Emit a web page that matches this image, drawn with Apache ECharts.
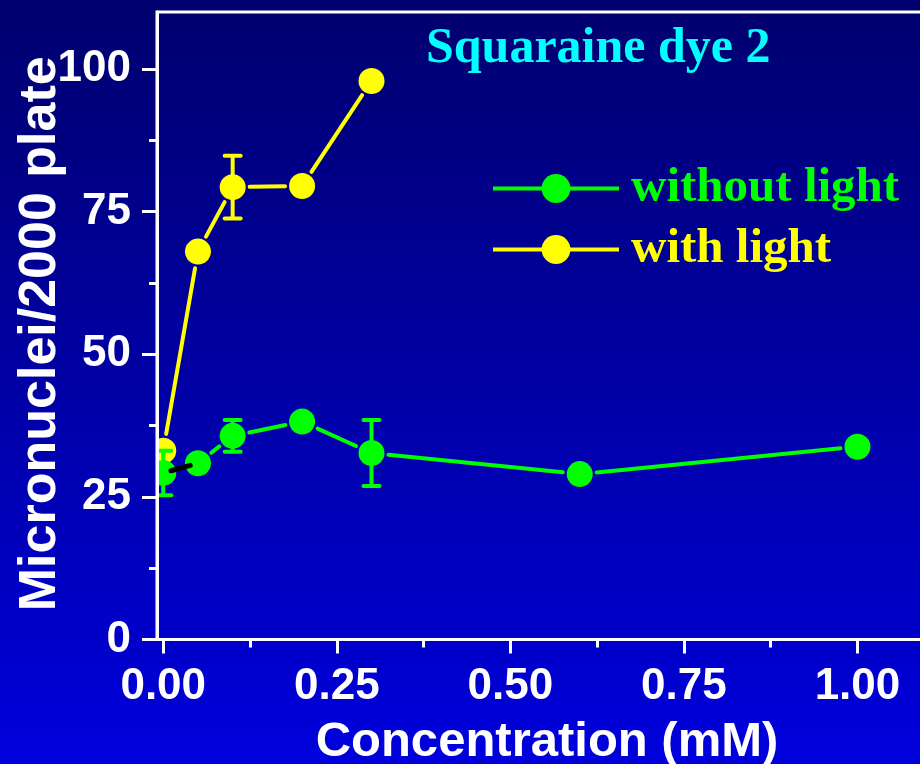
<!DOCTYPE html>
<html>
<head>
<meta charset="utf-8">
<script src="https://cdn.jsdelivr.net/npm/echarts@6/dist/echarts.min.js"></script>
<style>
  html, body { margin: 0; padding: 0; }
  #chart { width: 920px; height: 764px; }
</style>
</head>
<body>
<div id="chart"></div>
<script>
// Micronuclei counts per 2000 cells vs. dye concentration
const withoutLightX = [0, 0.05, 0.1, 0.2, 0.3, 0.6, 1.0];
const withoutLightY = [29.2, 30.9, 35.7, 38.2, 32.7, 29.0, 33.8];
const withoutLightErr = [3.9, 0, 2.8, 0, 5.8, 0, 0];

const withLightX = [0, 0.05, 0.1, 0.2, 0.3];
const withLightY = [33.1, 68.0, 79.3, 79.5, 97.9];
const withLightErr = [0, 0, 5.5, 0, 0];

const xTicks = [0, 0.25, 0.5, 0.75, 1.0];
const xMinorTicks = [0.125, 0.375, 0.625, 0.875];
const yTicks = [0, 25, 50, 75, 100];
const yMinorTicks = [12.5, 37.5, 62.5, 87.5];

const seriesNames = ['without light', 'with light'];
const titleText = 'Squaraine dye 2';
const xName = 'Concentration (mM)';
const yName = 'Micronuclei/2000 plate';

const GREEN = '#00ff00';
const YELLOW = '#ffff00';
const SANS = "'Liberation Sans', Arial, sans-serif";
const SERIF = "'Liberation Serif', 'Times New Roman', serif";

const X_MIN = -0.009, X_MAX = 1.1146;
const Y_MIN = 0, Y_MAX = 110;

const MARKER_R = 13;
const LINE_GAP = 17;

function rows(xs, ys, errs) {
  return xs.map((x, i) => [x, ys[i], errs[i]]);
}

function shorten(p, q, a, b) {
  const dx = q[0] - p[0], dy = q[1] - p[1];
  const len = Math.sqrt(dx * dx + dy * dy);
  if (len <= a + b) return null;
  const ux = dx / len, uy = dy / len;
  return { x1: p[0] + ux * a, y1: p[1] + uy * a, x2: q[0] - ux * b, y2: q[1] - uy * b };
}

// Connecting segments (stopping short of markers), error bars and circle markers
function makeRenderer(xs, ys, color) {
  return function (params, api) {
    const i = params.dataIndex;
    const x = api.value(0), y = api.value(1), e = api.value(2);
    const p = api.coord([x, y]);
    const children = [];
    if (i < xs.length - 1) {
      const q = api.coord([xs[i + 1], ys[i + 1]]);
      const s = shorten(p, q, LINE_GAP, LINE_GAP);
      if (s) {
        children.push({ type: 'line', shape: s,
          style: { stroke: color, lineWidth: 4, lineCap: 'round' } });
      }
    }
    if (e > 0) {
      const top = api.coord([x, y + e]);
      const bot = api.coord([x, y - e]);
      children.push({ type: 'line', shape: { x1: p[0], y1: top[1], x2: p[0], y2: bot[1] },
        style: { stroke: color, lineWidth: 4 } });
      children.push({ type: 'line', shape: { x1: p[0] - 8, y1: top[1], x2: p[0] + 8, y2: top[1] },
        style: { stroke: color, lineWidth: 4, lineCap: 'round' } });
      children.push({ type: 'line', shape: { x1: p[0] - 8, y1: bot[1], x2: p[0] + 8, y2: bot[1] },
        style: { stroke: color, lineWidth: 4, lineCap: 'round' } });
    }
    children.push({ type: 'circle', shape: { cx: p[0], cy: p[1], r: MARKER_R },
      style: { fill: color } });
    return { type: 'group', children };
  };
}

// Dark link between the first two "without light" points
function darkLinkRenderer(params, api) {
  if (params.dataIndex !== 0) return null;
  const p = api.coord([withoutLightX[0], withoutLightY[0]]);
  const q = api.coord([withoutLightX[1], withoutLightY[1]]);
  const s = shorten(p, q, 8, 8);
  if (!s) return null;
  return { type: 'line', shape: s, style: { stroke: '#000000', lineWidth: 5, lineCap: 'round' } };
}

const gridRect = { left: 157, right: -17, top: 12, bottom: 124.5 };

const chart = echarts.init(document.getElementById('chart'));
chart.setOption({
  backgroundColor: {
    type: 'linear', x: 0, y: 0, x2: 0, y2: 1,
    colorStops: [{ offset: 0, color: '#00006e' }, { offset: 1, color: '#0000dc' }]
  },
  animation: false,
  title: {
    text: titleText,
    left: 426, top: 24, padding: 0,
    textStyle: { color: '#00ffff', fontFamily: SERIF, fontWeight: 'bold', fontSize: 50 }
  },
  legend: {
    orient: 'vertical',
    left: 491, top: 164, padding: 0,
    itemWidth: 126, itemHeight: 36, itemGap: 12,
    lineStyle: { width: 4 },
    data: [
      { name: seriesNames[0], textStyle: { color: GREEN } },
      { name: seriesNames[1], textStyle: { color: YELLOW } }
    ],
    textStyle: { fontFamily: SERIF, fontWeight: 'bold', fontSize: 49, padding: [0, 0, 0, 7] }
  },
  grid: [
    Object.assign({ show: true, borderColor: '#ffffff', borderWidth: 3, backgroundColor: 'transparent',
      containLabel: false, outerBoundsMode: 'none' }, gridRect),
    Object.assign({ show: false, containLabel: false, outerBoundsMode: 'none' }, gridRect)
  ],
  xAxis: [
    {
      type: 'value', gridIndex: 0, min: X_MIN, max: X_MAX, z: 5,
      name: xName, nameLocation: 'middle', nameGap: 78, nameMoveOverlap: false,
      nameTextStyle: { color: '#ffffff', fontFamily: SANS, fontWeight: 'bold', fontSize: 49 },
      axisLine: { show: true, onZero: false, lineStyle: { color: '#ffffff', width: 3 } },
      axisTick: { show: true, length: 14, customValues: xTicks, lineStyle: { color: '#ffffff', width: 3 } },
      axisLabel: { show: true, customValues: xTicks, margin: 25, color: '#ffffff',
        fontFamily: SANS, fontWeight: 'bold', fontSize: 44, formatter: v => v.toFixed(2) },
      splitLine: { show: false }
    },
    {
      type: 'value', gridIndex: 1, min: X_MIN, max: X_MAX, position: 'bottom', z: 5,
      axisLine: { show: false, onZero: false },
      axisTick: { show: true, length: 8, customValues: xMinorTicks, lineStyle: { color: '#ffffff', width: 3 } },
      axisLabel: { show: false },
      splitLine: { show: false }
    }
  ],
  yAxis: [
    {
      type: 'value', gridIndex: 0, min: Y_MIN, max: Y_MAX, z: 5,
      name: yName, nameLocation: 'middle', nameGap: 90, nameMoveOverlap: false,
      nameTextStyle: { color: '#ffffff', fontFamily: SANS, fontWeight: 'bold', fontSize: 52, padding: [0, 16, 0, 0] },
      axisLine: { show: true, onZero: false, lineStyle: { color: '#ffffff', width: 3 } },
      axisTick: { show: true, length: 15, customValues: yTicks, lineStyle: { color: '#ffffff', width: 3 } },
      axisLabel: { show: true, customValues: yTicks, margin: 26, color: '#ffffff',
        fontFamily: SANS, fontWeight: 'bold', fontSize: 44 },
      splitLine: { show: false }
    },
    {
      type: 'value', gridIndex: 1, min: Y_MIN, max: Y_MAX, position: 'left', z: 5,
      axisLine: { show: false, onZero: false },
      axisTick: { show: true, length: 8, customValues: yMinorTicks, lineStyle: { color: '#ffffff', width: 3 } },
      axisLabel: { show: false },
      splitLine: { show: false }
    }
  ],
  series: [
    // legend entries
    { name: seriesNames[0], type: 'line', data: [], symbol: 'circle', color: GREEN,
      lineStyle: { width: 4 }, xAxisIndex: 0, yAxisIndex: 0 },
    { name: seriesNames[1], type: 'line', data: [], symbol: 'circle', color: YELLOW,
      lineStyle: { width: 4 }, xAxisIndex: 0, yAxisIndex: 0 },
    // plotted data
    { name: seriesNames[1], type: 'custom', clip: true, xAxisIndex: 0, yAxisIndex: 0,
      renderItem: makeRenderer(withLightX, withLightY, YELLOW),
      data: rows(withLightX, withLightY, withLightErr), z: 2 },
    { name: seriesNames[0], type: 'custom', clip: true, xAxisIndex: 0, yAxisIndex: 0,
      renderItem: makeRenderer(withoutLightX, withoutLightY, GREEN),
      data: rows(withoutLightX, withoutLightY, withoutLightErr), z: 3 },
    { type: 'custom', clip: true, xAxisIndex: 0, yAxisIndex: 0,
      renderItem: darkLinkRenderer,
      data: rows(withoutLightX.slice(0, 2), withoutLightY.slice(0, 2), withoutLightErr.slice(0, 2)), z: 4 }
  ]
});
</script>
</body>
</html>
